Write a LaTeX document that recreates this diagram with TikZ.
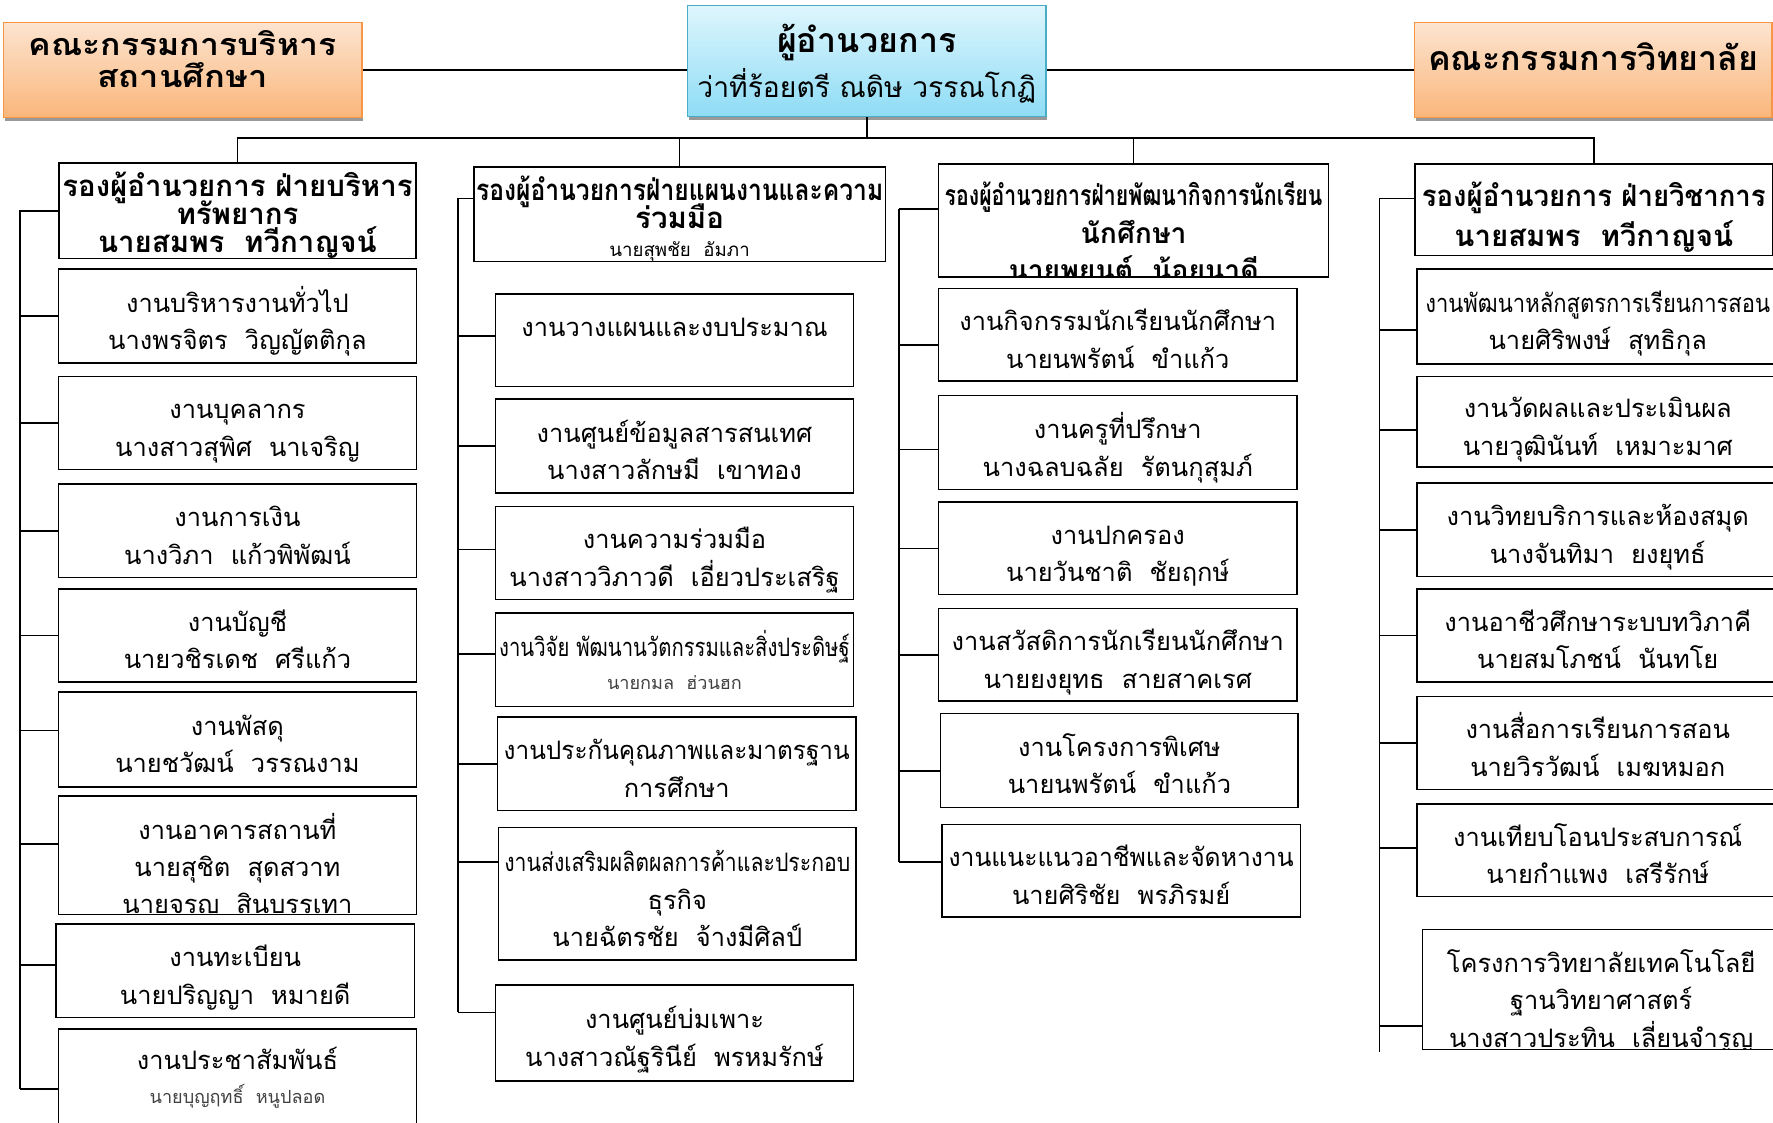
\documentclass[tikz,border=0pt]{standalone}
\usepackage{fontspec}
\usepackage{graphicx}
\setmainfont[Script=Thai]{Loma}
\usetikzlibrary{shadows}
\definecolor{boardline}{RGB}{247,150,70}
\definecolor{boardtop}{RGB}{252,228,208}
\definecolor{boardbot}{RGB}{250,182,122}
\definecolor{headline}{RGB}{75,172,198}
\definecolor{headtop}{RGB}{222,246,253}
\definecolor{headbot}{RGB}{142,220,245}
\newcommand{\squeeze}[2]{\resizebox{#1}{\height}{#2}}
\newcommand{\minor}{\fontsize{16}{18}\selectfont\color{black!75}}
\newcommand{\tieto}[3][0pt]{\draw[link] ([yshift=#1]#2.west) coordinate (t) -- (t -| #3);}
\tikzset{
  link/.style={line width=1.6pt},
  % height above the last baseline / depth below it
  pad/.code 2 args={\def\padtop{#1}\def\paddep{#2}},
  padded/.style={execute at begin node={\rule{0pt}{\padtop}}, execute at end node={\rule[-\paddep]{0pt}{\paddep}}},
  board/.style={draw=boardline, line width=1.2pt, top color=boardtop, bottom color=boardbot,
    drop shadow={shadow xshift=1pt, shadow yshift=-3pt, fill=black!40, opacity=1},
    align=center, inner sep=0pt, font=\bfseries\fontsize{27}{28}\selectfont, padded},
  head/.style={draw=headline, line width=1.2pt, top color=headtop, bottom color=headbot,
    drop shadow={shadow xshift=1pt, shadow yshift=-3pt, fill=black!40, opacity=1},
    align=center, inner sep=0pt, font=\fontsize{25}{40}\selectfont, padded, pad={80pt}{16pt}},
  vp/.style={draw, line width=1.3pt, fill=white, align=center, inner sep=0pt,
    font=\bfseries\fontsize{26}{25}\selectfont, padded, pad={79pt}{4pt}},
  unit/.style={draw, line width=1.2pt, fill=white, align=center, inner sep=0pt,
    minimum width=317pt, minimum height=83pt, font=\fontsize{22.5}{33}\selectfont, padded, pad={68pt}{9pt}},
  cuttext/.style={draw=none, fill=none, align=center, inner sep=0pt,
    font=\fontsize{22.5}{33}\selectfont, padded, pad={102pt}{9pt}},
}

\begin{document}
\lineskiplimit=-100pt
\begin{tikzpicture}[x=1pt,y=-1pt]
  \useasboundingbox (0,0) rectangle (1568,993);
  % top row
  \node[board, minimum width=317pt, minimum height=84pt, pad={57pt}{27pt}] (bl) at (161.5,62)
    {\squeeze{272pt}{คณะกรรมการบริหาร}\\\squeeze{150pt}{สถานศึกษา}};
  \node[head, minimum width=317pt, minimum height=98pt] (dir) at (766.5,54)
    {{\bfseries\fontsize{30}{40}\selectfont ผู้อำนวยการ}\\ว่าที่ร้อยตรี ณดิษ วรรณโกฏิ};
  \node[board, minimum width=316pt, minimum height=84pt, font=\bfseries\fontsize{30}{30}\selectfont, pad={36pt}{36pt}] (br) at (1409,62)
    {คณะกรรมการวิทยาลัย};
  \draw[link] (bl.east) -- (bl.east -| dir.west);
  \draw[link] (dir.east |- br.west) -- (br.west);
  \coordinate (bus) at (767,122);
  % deputies
  \node[vp, minimum width=316pt, minimum height=83pt] (v1) at (210,186.5)
    {รองผู้อำนวยการ ฝ่ายบริหาร\\ทรัพยากร\\นายสมพร\ \ ทวีกาญจน์};
  \node[vp, minimum width=364pt, minimum height=83pt, pad={79.5pt}{3.5pt}] (v2) at (601,189.5)
    {\squeeze{360pt}{รองผู้อำนวยการฝ่ายแผนงานและความ}\\ร่วมมือ\\{\mdseries\fontsize{16.5}{22}\selectfont นายสุพชัย\ \ อัมภา}};
  \node[vp, minimum width=345pt, minimum height=100pt,
    path picture={\node[cuttext, font=\bfseries\fontsize{25}{33}\selectfont] at ([yshift=-6.5pt]path picture bounding box.center)
      {\squeeze{334pt}{รองผู้อำนวยการฝ่ายพัฒนากิจการนักเรียน}\\นักศึกษา\\นายพยนต์\ \ น้อยนาดี};}] (v3) at (1002.5,195) {};
  \node[vp, minimum width=316pt, minimum height=81pt, font=\bfseries\fontsize{26}{35}\selectfont, pad={73pt}{8pt}] (v4) at (1409.5,185.5)
    {\squeeze{304pt}{รองผู้อำนวยการ ฝ่ายวิชาการ}\\นายสมพร\ \ ทวีกาญจน์};
  \draw[link] (dir.south) -- (dir.south |- bus);
  \draw[link] (v1.north) |- (v4.north |- bus) -- (v4.north);
  \draw[link] (v2.north) -- (v2.north |- bus);
  \draw[link] (v3.north) -- (v3.north |- bus);
  % column 1
  \coordinate (s1a) at (18,186);
  \coordinate (s1b) at (18,963);
  \node[unit] (a1) at (210,279.5) {งานบริหารงานทั่วไป\\นางพรจิตร\ \ วิญญัตติกุล};
  \node[unit, minimum height=82pt] (a2) at (210,374) {งานบุคลากร\\นางสาวสุพิศ\ \ นาเจริญ};
  \node[unit] (a3) at (210,469.5) {งานการเงิน\\นางวิภา\ \ แก้วพิพัฒน์};
  \node[unit, minimum height=82pt] (a4) at (210,562) {งานบัญชี\\นายวชิรเดช\ \ ศรีแก้ว};
  \node[unit, minimum height=84pt] (a5) at (210,654) {งานพัสดุ\\นายชวัฒน์\ \ วรรณงาม};
  \node[unit, minimum height=105pt,
    path picture={\node[cuttext] at ([yshift=-5pt]path picture bounding box.center)
      {งานอาคารสถานที่\\นายสุชิต\ \ สุดสวาท\\นายจรูญ\ \ สินบรรเทา};}] (a6) at (210,756.5) {};
  \node[unit] (a7) at (208,858.5) {งานทะเบียน\\นายปริญญา\ \ หมายดี};
  \node[unit, minimum height=100pt,
    path picture={\node[cuttext, font=\fontsize{22.5}{30}\selectfont, pad={60pt}{12pt}] at ([yshift=8pt]path picture bounding box.center)
      {งานประชาสัมพันธ์\\{\minor นายบุญฤทธิ์\ \ หนูปลอด}};}] (a8) at (210,960) {};
  \draw[link] (s1a) -- (s1b);
  \tieto{v1}{s1a}
  \tieto{a1}{s1a}
  \tieto{a2}{s1a}
  \tieto{a3}{s1a}
  \tieto{a4}{s1a}
  \tieto[8pt]{a5}{s1a}
  \tieto[10pt]{a6}{s1a}
  \tieto[5pt]{a7}{s1a}
  \tieto[-3pt]{a8}{s1a}
  % column 2
  \coordinate (s2a) at (405,175);
  \coordinate (s2b) at (405,895);
  \node[unit, minimum height=82pt] (b1) at (596.5,301) {งานวางแผนและงบประมาณ\\~};
  \node[unit] (b2) at (596.5,394.5) {งานศูนย์ข้อมูลสารสนเทศ\\นางสาวลักษมี\ \ เขาทอง};
  \node[unit, minimum height=82pt] (b3) at (596.5,489) {งานความร่วมมือ\\นางสาววิภาวดี\ \ เอี่ยวประเสริฐ};
  \node[unit, font=\fontsize{22.5}{29}\selectfont, pad={65pt}{13pt}] (b4) at (596.5,583.5)
    {\squeeze{310pt}{งานวิจัย พัฒนานวัตกรรมและสิ่งประดิษฐ์}\\{\minor นายกมล\ \ ฮ่วนฮก}};
  \node[unit] (b5) at (598.5,675.5) {\squeeze{306pt}{งานประกันคุณภาพและมาตรฐาน}\\การศึกษา};
  \node[unit, minimum width=316pt, minimum height=117pt, pad={102pt}{9pt}] (b6) at (599,790.5)
    {\squeeze{306pt}{งานส่งเสริมผลิตผลการค้าและประกอบ}\\ธุรกิจ\\นายฉัตรชัย\ \ จ้างมีศิลป์};
  \node[unit, minimum height=85pt] (b7) at (596.5,913.5) {งานศูนย์บ่มเพาะ\\นางสาวณัฐรินีย์\ \ พรหมรักษ์};
  \draw[link] (s2a) -- (s2b);
  \tieto[14pt]{v2}{s2a}
  \tieto[4pt]{b1}{s2a}
  \tieto{b2}{s2a}
  \tieto[3pt]{b3}{s2a}
  \tieto[5pt]{b4}{s2a}
  \tieto{b5}{s2a}
  \tieto[28pt]{b6}{s2a}
  \tieto[18pt]{b7}{s2a}
  % column 3
  \coordinate (s3a) at (795,185);
  \coordinate (s3b) at (795,762);
  \node[unit, minimum height=82pt] (c1) at (988.5,296) {งานกิจกรรมนักเรียนนักศึกษา\\นายนพรัตน์\ \ ขำแก้ว};
  \node[unit] (c2) at (988.5,391.5) {งานครูที่ปรึกษา\\นางฉลบฉลัย\ \ รัตนกุสุมภ์};
  \node[unit, minimum height=82pt] (c3) at (988.5,485) {งานปกครอง\\นายวันชาติ\ \ ชัยฤกษ์};
  \node[unit, minimum height=82pt] (c4) at (988.5,579) {งานสวัสดิการนักเรียนนักศึกษา\\นายยงยุทธ\ \ สายสาคเรศ};
  \node[unit, minimum width=316pt] (c5) at (990,672.5) {งานโครงการพิเศษ\\นายนพรัตน์\ \ ขำแก้ว};
  \node[unit, minimum height=82pt] (c6) at (991.5,770) {\squeeze{305pt}{งานแนะแนวอาชีพและจัดหางาน}\\นายศิริชัย\ \ พรภิรมย์};
  \draw[link] (s3a) -- (s3b);
  \tieto[10pt]{v3}{s3a}
  \tieto[-9pt]{c1}{s3a}
  \tieto[-6pt]{c2}{s3a}
  \tieto{c3}{s3a}
  \tieto{c4}{s3a}
  \tieto[-9pt]{c5}{s3a}
  \tieto[8pt]{c6}{s3a}
  % column 4
  \coordinate (s4a) at (1220,175);
  \coordinate (s4b) at (1220,930);
  \node[unit, minimum width=320pt, minimum height=84pt] (d1) at (1413,280)
    {\squeeze{305pt}{งานพัฒนาหลักสูตรการเรียนการสอน}\\นายศิริพงษ์\ \ สุทธิกุล};
  \node[unit, minimum width=320pt, minimum height=80pt] (d2) at (1413,373) {งานวัดผลและประเมินผล\\นายวุฒินันท์\ \ เหมาะมาศ};
  \node[unit, minimum width=320pt] (d3) at (1413,468.5) {งานวิทยบริการและห้องสมุด\\นางจันทิมา\ \ ยงยุทธ์};
  \node[unit, minimum width=320pt, minimum height=82pt] (d4) at (1413,562) {งานอาชีวศึกษาระบบทวิภาคี\\นายสมโภชน์\ \ นันทโย};
  \node[unit, minimum width=320pt, minimum height=82pt] (d5) at (1413,657) {งานสื่อการเรียนการสอน\\นายวิรวัฒน์\ \ เมฆหมอก};
  \node[unit, minimum width=320pt, minimum height=82pt] (d6) at (1413,752) {งานเทียบโอนประสบการณ์\\นายกำแพง\ \ เสรีรักษ์};
  \node[unit, minimum width=316pt, minimum height=106pt,
    path picture={\node[cuttext] at ([yshift=-4.5pt]path picture bounding box.center)
      {โครงการวิทยาลัยเทคโนโลยี\\ฐานวิทยาศาสตร์\\นางสาวประทิน\ \ เลี่ยนจำรูญ};}] (d7) at (1416,875) {};
  \draw[link] (s4a) -- (s4b);
  \tieto[10pt]{v4}{s4a}
  \tieto[-12pt]{d1}{s4a}
  \tieto[-7pt]{d2}{s4a}
  \tieto{d3}{s4a}
  \tieto{d4}{s4a}
  \tieto{d5}{s4a}
  \tieto[2pt]{d6}{s4a}
  \tieto[-32pt]{d7}{s4a}
\end{tikzpicture}
\end{document}
